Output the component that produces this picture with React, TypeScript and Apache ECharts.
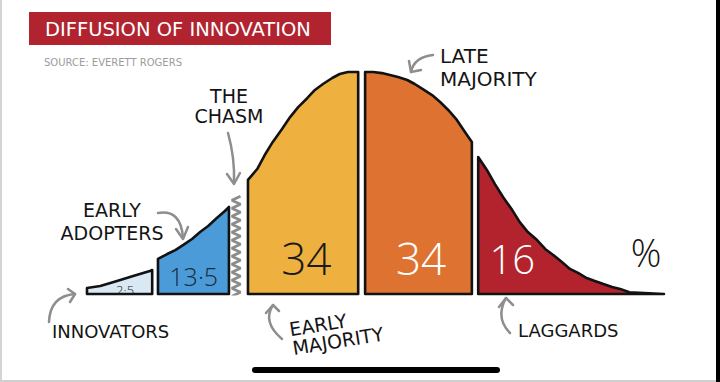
import React, { useEffect, useRef } from "react";
import * as echarts from "echarts";

// Segment names and shares (percent of adopters)
const SEGMENT_NAMES = ["Innovators", "Early Adopters", "Early Majority", "Late Majority", "Laggards"];
const SHARES = [2.5, 13.5, 34, 34, 16];

// Curve outline of each segment: x position along the adoption axis (0-100) and curve height (0-100, peak = 100)
const INNOVATORS_X = [0, 2.3, 5.2, 8.0, 10.9, 11.3];
const INNOVATORS_H = [2.7, 3.6, 5.9, 8.1, 10.4, 10.8];
const EARLY_ADOPTERS_X = [12.3, 13.9, 15.3, 16.7, 18.2, 19.6, 21.0, 22.5, 23.9, 24.6];
const EARLY_ADOPTERS_H = [15.8, 18.0, 19.8, 22.1, 24.8, 27.9, 30.6, 34.2, 37.4, 39.2];
const EARLY_MAJORITY_X = [27.9, 29.5, 30.8, 32.2, 33.8, 35.2, 36.6, 38.2, 39.5, 40.9, 42.5, 43.8, 45.2, 47.0];
const EARLY_MAJORITY_H = [51.4, 56.3, 62.6, 68.5, 74.3, 79.7, 84.2, 88.3, 91.9, 94.6, 97.3, 99.1, 100, 100];
const LATE_MAJORITY_X = [48.2, 49.6, 51.1, 52.5, 53.9, 55.5, 56.8, 58.2, 59.8, 61.2, 62.6, 64.1, 65.5, 66.7];
const LATE_MAJORITY_H = [100, 100, 99.5, 98.6, 97.7, 96.4, 94.6, 92.3, 89.6, 86.5, 82.9, 78.4, 73.0, 68.5];
const LAGGARDS_X = [67.8, 69.3, 70.7, 72.1, 73.7, 75.0, 76.4, 78.0, 79.4, 80.8, 82.3, 83.7, 85.1, 86.6, 88.0, 89.5, 91.0, 92.4, 94.0, 100];
const LAGGARDS_H = [61.7, 55.9, 49.5, 43.7, 37.8, 32.4, 27.9, 24.3, 20.3, 17.6, 14.4, 11.3, 9.5, 7.2, 5.9, 4.5, 3.2, 2.3, 0.8, 0];

// The chasm (zig-zag gap between early adopters and early majority)
const CHASM_X = [25.1, 26.6];
const CHASM_H = [-1, 0.8, 2.6, 4.4, 6.2, 8.0, 9.8, 11.6, 13.4, 15.2, 17.0, 18.8, 20.6, 22.4, 24.2, 26.0, 27.8, 29.6, 31.4, 33.2, 35.0, 36.8, 38.6, 40.4, 42.2, 44.0];

const SEG_X = [INNOVATORS_X, EARLY_ADOPTERS_X, EARLY_MAJORITY_X, LATE_MAJORITY_X, LAGGARDS_X];
const SEG_H = [INNOVATORS_H, EARLY_ADOPTERS_H, EARLY_MAJORITY_H, LATE_MAJORITY_H, LAGGARDS_H];

// presentation
const SEG_COLORS = ["#d9e8f3", "#4b9bd8", "#eeb140", "#de7230", "#b2232e"];
const LABEL_COLORS = ["#1a1a1a", "#1a2a3a", "#1a1a1a", "#ffffff", "#ffffff"];
const LABEL_SIZES = [13, 25, 44, 44, 40];
const LABEL_POS = [[6.6, 2.0], [18.5, 8.3], [38.0, 16.4], [57.9, 16.4], [73.7, 16.0]];

const fmt = (v: number) => String(v).replace(".", "·");

const HAND = "'DejaVu Sans', 'Noto Sans', sans-serif";
const THIN = "'Open Sans', 'Lato', sans-serif";
const GRAY = "#8e8e8e";

function arrow(x1: number, y1: number, cx: number, cy: number, x2: number, y2: number, head: number[][]) {
  return [
    {
      type: "bezierCurve",
      shape: { x1, y1, cpx1: cx, cpy1: cy, x2, y2 },
      style: { stroke: GRAY, lineWidth: 2.5, fill: null, lineCap: "round" },
      z: 10,
    },
    {
      type: "polyline",
      shape: { points: head },
      style: { stroke: GRAY, lineWidth: 2.5, fill: null, lineCap: "round", lineJoin: "round" },
      z: 10,
    },
  ];
}

function label(text: string, x: number, y: number, opts: any = {}) {
  return {
    type: "text",
    x,
    y,
    rotation: opts.rotation || 0,
    z: 10,
    style: {
      text,
      fontFamily: opts.fontFamily || HAND,
      fontSize: opts.fontSize || 19,
      fontWeight: opts.fontWeight || "normal",
      fill: opts.fill || "#141414",
      textAlign: opts.align || "left",
      textVerticalAlign: "top",
      lineHeight: opts.lineHeight || 22,
    },
  };
}

export default function App() {
  const ref = useRef<HTMLDivElement>(null);
  useEffect(() => {
    if (!ref.current) return;
    const chart = echarts.init(ref.current, null, { renderer: "svg" });
    const option: any = {
      animation: false,
      backgroundColor: "#ffffff",
      grid: { left: 87, right: 56, top: 72, bottom: 88 },
      xAxis: { type: "value", min: 0, max: 100, show: false },
      yAxis: { type: "value", min: 0, max: 100, show: false },
      series: [
        {
          type: "custom",
          name: "Adopters",
          clip: false,
          data: SHARES.map((v, i) => [i, v]),
          renderItem: (params: any, api: any) => {
            const i = params.dataIndex;
            const xs = SEG_X[i];
            const hs = SEG_H[i];
            const pts = xs.map((x, k) => api.coord([x, hs[k]]));
            const poly = [api.coord([xs[0], 0]), ...pts, api.coord([xs[xs.length - 1], 0])];
            const lp = api.coord(LABEL_POS[i]);
            return {
              type: "group",
              children: [
                {
                  type: "polygon",
                  shape: { points: poly },
                  style: { fill: SEG_COLORS[i], stroke: "#121212", lineWidth: 2.6, lineJoin: "round" },
                },
                {
                  type: "text",
                  x: lp[0],
                  y: lp[1],
                  style: {
                    text: fmt(SHARES[i]),
                    fill: LABEL_COLORS[i],
                    fontFamily: THIN,
                    fontWeight: 300,
                    fontSize: LABEL_SIZES[i],
                    textAlign: "center",
                    textVerticalAlign: "middle",
                  },
                },
              ],
            };
          },
        },
        {
          type: "line",
          name: "The chasm",
          symbol: "none",
          silent: true,
          data: CHASM_H.map((h, k) => [CHASM_X[k % 2], h]),
          lineStyle: { color: "#8c8c8c", width: 2.8 },
        },
      ],
      graphic: [
        // frame of the screenshot
        { type: "rect", shape: { x: 0, y: 0, width: 2, height: 382 }, style: { fill: "#d4d4d4" } },
        { type: "rect", shape: { x: 716, y: 0, width: 4, height: 382 }, style: { fill: "#000" } },
        { type: "rect", shape: { x: 0, y: 380, width: 716, height: 2 }, style: { fill: "#cfcfcf" } },
        { type: "rect", shape: { x: 252, y: 367, width: 248, height: 6, r: 3 }, style: { fill: "#000" } },
        // title
        { type: "rect", shape: { x: 29, y: 12, width: 302, height: 33 }, style: { fill: "#b1232f" } },
        {
          type: "text",
          x: 45,
          y: 29.5,
          style: {
            text: "DIFFUSION OF INNOVATION",
            fill: "#fff",
            fontFamily: HAND,
            fontSize: 19.5,
            textVerticalAlign: "middle",
          },
        },
        {
          type: "text",
          x: 44,
          y: 62,
          style: {
            text: "SOURCE: EVERETT ROGERS",
            fill: "#9c9c9c",
            fontFamily: HAND,
            fontSize: 10,
            textVerticalAlign: "middle",
          },
        },
        // segment names
        label("THE\nCHASM", 229, 86, { align: "center", lineHeight: 20 }),
        label("EARLY\nADOPTERS", 112, 198, { align: "center", lineHeight: 23 }),
        label("INNOVATORS", 52, 320, { fontSize: 18 }),
        label("LATE\nMAJORITY", 440, 44, { lineHeight: 23, fontSize: 20 }),
        label("EARLY\nMAJORITY", 288, 320, { lineHeight: 19, fontSize: 19, rotation: 0.16 }),
        label("LAGGARDS", 518, 319, { fontSize: 18 }),
        label("%", 646, 241, { align: "center", fontSize: 38, fontFamily: THIN, fontWeight: 300 }),
        // arrows
        ...arrow(49, 322, 50, 296, 75, 294, [[68, 289], [75, 294], [70, 302]]),
        ...arrow(158, 213, 181, 209, 183, 238, [[176, 229], [183, 239], [188, 227]]),
        ...arrow(228, 133, 235, 158, 234, 183, [[227, 174], [234, 184], [240, 173]]),
        ...arrow(433, 55, 414, 57, 411, 72, [[409, 61], [411, 72], [421, 70]]),
        ...arrow(282, 339, 262, 322, 273, 305, [[266, 313], [273, 305], [279, 311]]),
        ...arrow(510, 333, 495, 318, 506, 298, [[499, 307], [506, 298], [513, 305]]),
      ],
    };
    chart.setOption(option);
    return () => chart.dispose();
  }, []);
  return (
    <div
      ref={ref}
      style={{ position: "fixed", left: 0, top: 0, width: 720, height: 382, background: "#fff" }}
    />
  );
}
